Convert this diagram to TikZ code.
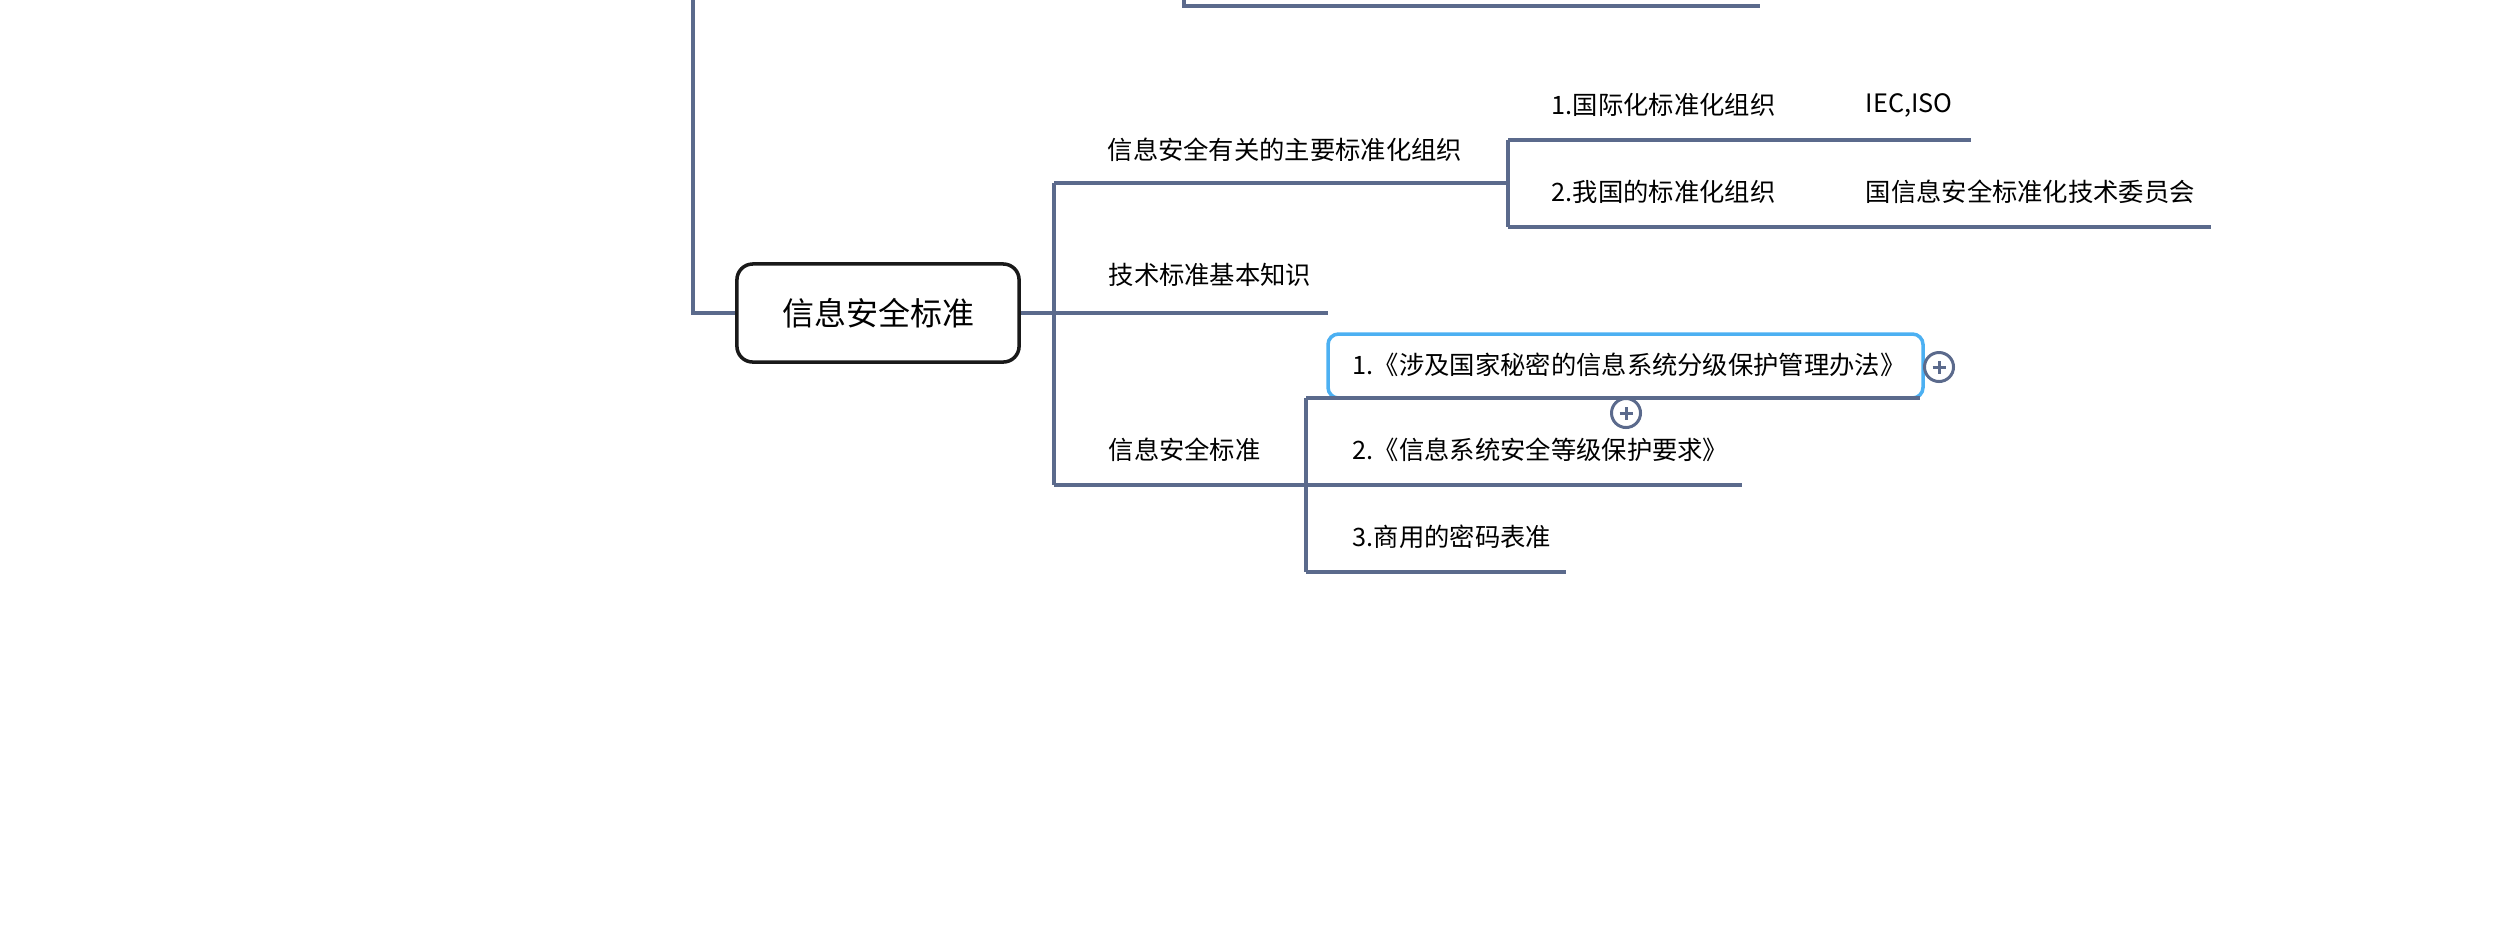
\documentclass[tikz,border=0pt]{standalone}
\usepackage{fontspec}
\newfontfamily\cjk{Noto Sans CJK SC}
\definecolor{ln}{HTML}{5B6A8C}
\definecolor{sel}{HTML}{4CB0F2}
\begin{document}
\begin{tikzpicture}[x=0.01cm,y=-0.01cm,
  conn/.style={draw=ln,line width=1.1pt},
  lbl/.style={anchor=west,inner sep=0pt,font=\cjk\fontsize{7.2}{8.5}\selectfont},
  rootbox/.style={draw=black!90,line width=1pt,rounded corners=4.5pt,fill=white,
    minimum width=2.82cm,minimum height=0.98cm,inner sep=0pt,
    font=\cjk\fontsize{9.1}{11}\selectfont},
  selbox/.style={draw=sel,line width=1pt,rounded corners=3pt},
  plusbtn/.style={circle,draw=ln,fill=white,line width=0.85pt,minimum size=0.29cm,inner sep=0pt}]
\useasboundingbox (0,0) rectangle (2494,935);

% partial branch above
\coordinate (up1) at (1184,0);
\coordinate (up2) at (1184,6);
\coordinate (up3) at (1760,6);
\draw[conn] (up1) -- (up2) -- (up3);

% root
\node[rootbox] (root) at (878,313) {信息安全标准};
\coordinate (lt) at (693,0);
\coordinate (lb) at (693,313);
\draw[conn] (lt) -- (lb) -- (root.west);

% trunk
\coordinate (tr) at (1054,313);
\coordinate (t1) at (1054,183);
\coordinate (t3) at (1054,485);
\draw[conn] (root.east) -- (tr);
\draw[conn] (t1) -- (t3);

% branch 1
\node[lbl] (b1) at (1107,150) {信息安全有关的主要标准化组织};
\coordinate (s1) at (1508,183);
\coordinate (s1a) at (1508,140);
\coordinate (s1b) at (1508,227);
\draw[conn] (t1) -- (s1);
\draw[conn] (s1a) -- (s1b);
\node[lbl] (c11) at (1551,105) {1.国际化标准化组织};
\node[lbl] (d11) at (1865,105) {IEC,ISO};
\coordinate (e11) at (1971,140);
\draw[conn] (s1a) -- (e11);
\node[lbl] (c12) at (1551,192) {2.我国的标准化组织};
\node[lbl] (d12) at (1865,192) {国信息安全标准化技术委员会};
\coordinate (e12) at (2211,227);
\draw[conn] (s1b) -- (e12);

% branch 2
\node[lbl] (b2) at (1108,275) {技术标准基本知识};
\coordinate (e2) at (1328,313);
\draw[conn] (tr) -- (e2);

% branch 3
\node[lbl] (b3) at (1108,450) {信息安全标准};
\coordinate (s3) at (1306,485);
\coordinate (s3a) at (1306,398);
\coordinate (s3c) at (1306,572);
\draw[conn] (t3) -- (s3);
\draw[conn] (s3a) -- (s3c);

\draw[selbox] (1328,334) rectangle (1923,398);
\node[lbl] (c31) at (1352,365) {1.《涉及国家秘密的信息系统分级保护管理办法》};
\coordinate (e31) at (1920,398);
\draw[conn] (s3a) -- (e31);
\node[lbl] (c32) at (1352,450) {2.《信息系统安全等级保护要求》};
\coordinate (e32) at (1742,485);
\draw[conn] (s3) -- (e32);
\node[lbl] (c33) at (1352,537) {3.商用的密码表准};
\coordinate (e33) at (1566,572);
\draw[conn] (s3c) -- (e33);

% expand buttons
\node[plusbtn] (p1) at (1939,367) {};
\draw[ln,line width=0.85pt] ([xshift=-0.065cm]p1.center) -- ([xshift=0.065cm]p1.center)
  ([yshift=-0.065cm]p1.center) -- ([yshift=0.065cm]p1.center);
\node[plusbtn] (p2) at (1626,413) {};
\draw[ln,line width=0.85pt] ([xshift=-0.065cm]p2.center) -- ([xshift=0.065cm]p2.center)
  ([yshift=-0.065cm]p2.center) -- ([yshift=0.065cm]p2.center);
\end{tikzpicture}
\end{document}
